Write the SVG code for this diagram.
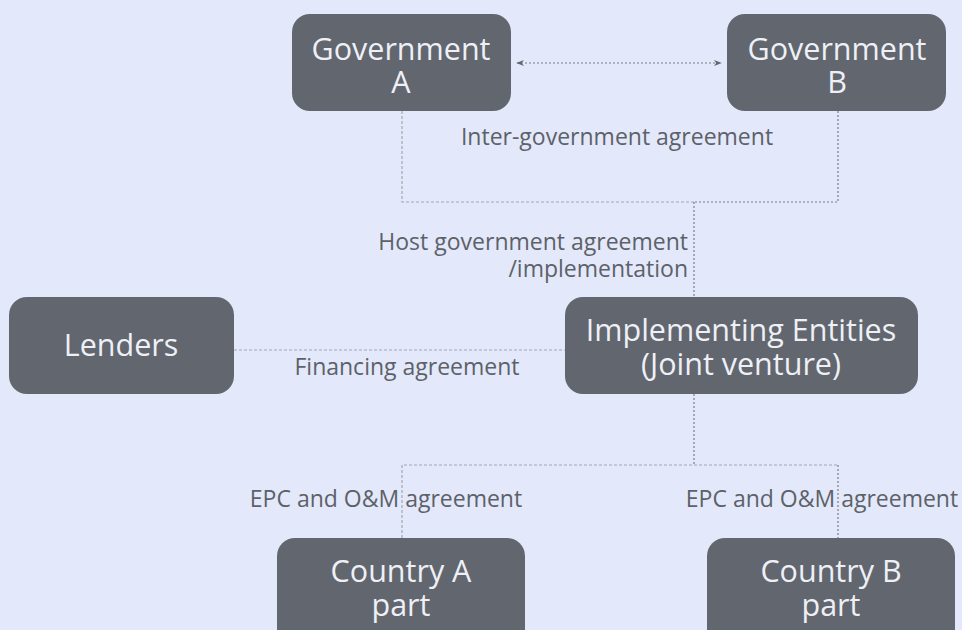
<svg xmlns="http://www.w3.org/2000/svg" width="962" height="630" viewBox="0 0 962 630">
<defs>
<style>
.box{fill:#62666e;}
.nt{font-family:"Open Sans","Noto Sans",sans-serif;font-size:30.5px;fill:#eef0f6;text-anchor:middle;}
.lb{font-family:"Open Sans","Noto Sans",sans-serif;font-size:23px;fill:#5d6168;}
.ln{fill:none;stroke:#7d8088;stroke-width:1.2;stroke-dasharray:2 2;}
.ln2{fill:none;stroke:#a4a7ae;stroke-width:1.2;stroke-dasharray:3 2;}
</style>
<marker id="ah" viewBox="0 0 10 10" refX="9" refY="5" markerWidth="8" markerHeight="8" orient="auto-start-reverse" markerUnits="userSpaceOnUse">
<path d="M0,1 L10,5 L0,9 L3,5 Z" fill="#62666e"/>
</marker>
</defs>
<rect width="962" height="630" fill="#e3e9fb"/>
<g id="connectors">
<line class="ln" x1="517" y1="63" x2="721" y2="63" marker-start="url(#ah)" marker-end="url(#ah)"/>
<polyline class="ln2" points="402,111 402,202 694,202"/>
<polyline class="ln" points="838,111 838,202 694,202"/>
<line class="ln" x1="694" y1="202" x2="694" y2="297"/>
<line class="ln2" x1="234" y1="350" x2="565" y2="350"/>
<line class="ln" x1="694" y1="394" x2="694" y2="465"/>
<polyline class="ln2" points="402,538 402,465 838,465"/>
<line class="ln" x1="838" y1="465" x2="838" y2="538"/>
<text class="lb" x="617" y="145" text-anchor="middle">Inter-government agreement</text>
<text class="lb" text-anchor="end"><tspan x="688" y="250">Host government agreement</tspan><tspan x="688" y="277">/implementation</tspan></text>
<text class="lb" x="407" y="375" text-anchor="middle">Financing agreement</text>
<text class="lb" x="386" y="507" text-anchor="middle">EPC and O&amp;M agreement</text>
<text class="lb" x="822" y="507" text-anchor="middle">EPC and O&amp;M agreement</text>
</g>
<g id="govA"><rect class="box" x="292" y="14" width="219" height="97" rx="18"/><text class="nt"><tspan x="401" y="60">Government</tspan><tspan x="401" y="93">A</tspan></text></g>
<g id="govB"><rect class="box" x="727" y="14" width="219" height="97" rx="18"/><text class="nt"><tspan x="837" y="60">Government</tspan><tspan x="837" y="93">B</tspan></text></g>
<g id="lenders"><rect class="box" x="9" y="297" width="225" height="97" rx="18"/><text class="nt" x="121" y="356">Lenders</text></g>
<g id="impl"><rect class="box" x="565" y="297" width="353" height="97" rx="18"/><text class="nt"><tspan x="741" y="341">Implementing Entities</tspan><tspan x="741" y="375">(Joint venture)</tspan></text></g>
<g id="countryA"><rect class="box" x="277" y="538" width="248" height="110" rx="18"/><text class="nt"><tspan x="401" y="582">Country A</tspan><tspan x="401" y="616">part</tspan></text></g>
<g id="countryB"><rect class="box" x="707" y="538" width="248" height="110" rx="18"/><text class="nt"><tspan x="831" y="582">Country B</tspan><tspan x="831" y="616">part</tspan></text></g>
</svg>
